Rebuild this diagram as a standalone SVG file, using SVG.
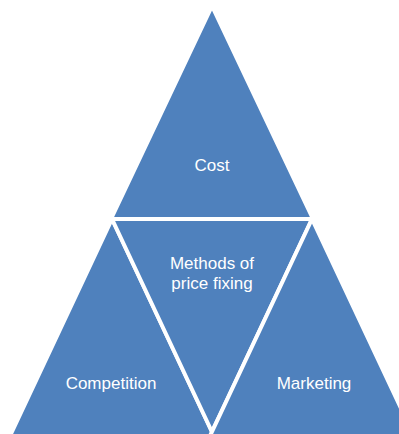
<svg xmlns="http://www.w3.org/2000/svg" width="399" height="434" viewBox="0 0 399 434">
<style>
.tri{fill:#4F81BD;stroke:#FFFFFF;stroke-width:4;stroke-linejoin:bevel}
.lbl{fill:#FFFFFF;font-family:"Liberation Sans",Arial,sans-serif;font-size:17px;text-anchor:middle}
</style>
<rect width="399" height="434" fill="#FFFFFF"/>
<g id="cost">
<polygon class="tri" points="212,6 111,219 313,219"/>
<text class="lbl" x="212" y="171">Cost</text>
</g>
<g id="competition">
<polygon class="tri" points="112,219 9,438 215,438"/>
<text class="lbl" x="111" y="389">Competition</text>
</g>
<g id="methods">
<polygon class="tri" points="112,219 312,219 212,432"/>
<text class="lbl" x="212" y="269">Methods of</text>
<text class="lbl" x="212" y="289">price fixing</text>
</g>
<g id="marketing">
<polygon class="tri" points="312,219 209,438 415,438"/>
<text class="lbl" x="314" y="389">Marketing</text>
</g>
<g id="connectors"></g>
</svg>
